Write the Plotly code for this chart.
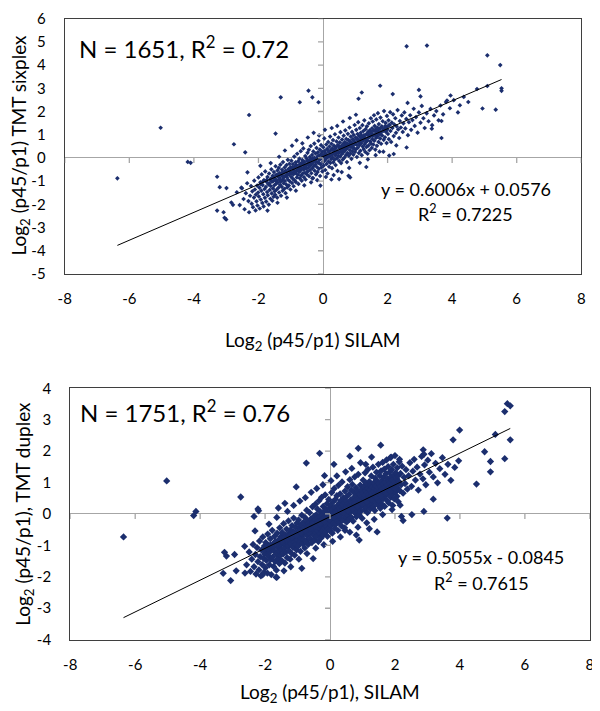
import plotly.graph_objects as go

# ---------------- data ----------------
x_ticks = [-8, -6, -4, -2, 0, 2, 4, 6, 8]
y_ticks_top = [-5, -4, -3, -2, -1, 0, 1, 2, 3, 4, 5, 6]
y_ticks_bot = [-4, -3, -2, -1, 0, 1, 2, 3, 4]

top_slope, top_intercept = 0.6006, 0.0576
bot_slope, bot_intercept = 0.5055, -0.0845

top_pairs = [
    # outliers
    (-6.37, -0.88), (-5.03, 1.30), (-4.19, -0.17), (-4.10, -0.21), (-2.76, 0.59), (-2.41, 0.24),
    (-2.29, 1.85), (-1.31, 2.61), (-1.47, 1.05), (-0.72, 2.40), (-0.45, 2.90), (-0.33, 2.61),
    (-0.14, 2.40), (-3.28, -0.81), (-3.20, -1.26), (-2.99, -1.30), (-3.28, -2.27), (-3.08, -2.34),
    (-3.05, -2.58), (-3.00, -2.65), (-2.84, -1.92), (-2.79, -2.02), (-2.53, -1.28), (2.59, 4.81),
    (3.22, 4.84), (5.09, 4.42), (5.49, 4.00), (5.53, 3.00), (5.53, 2.89), (5.35, 2.08), (4.94, 2.13),
    (4.77, 2.97), (4.50, 2.41), (5.09, 3.10), (1.77, 3.11), (1.20, 2.82), (1.10, 2.55), (2.16, 2.75),
    (2.97, 2.93), (3.02, 2.65), (3.67, 1.59), (3.67, 0.86), (3.37, 1.26), (2.62, 2.37), (2.59, 0.45),
    (2.05, 0.10), (2.19, 0.17), (1.34, -0.39), (0.79, -0.77), (0.84, -0.84), (0.50, -0.91),
    (0.26, -0.93), (-0.08, -1.19), (-0.33, -0.88), (3.84, 2.47), (3.95, 2.69), (4.24, 2.27),
    # cloud
    (-2.67, -1.48), (-2.58, -2.03), (-2.51, -1.31), (-2.46, -1.77), (-2.43, -2.21), (-2.39, -1.52),
    (-2.35, -1.09), (-2.31, -1.86), (-2.29, -2.34), (-2.26, -1.63), (-2.23, -1.21), (-2.21, -1.97),
    (-2.19, -1.44), (-2.17, -2.12), (-2.14, -1.71), (-2.13, -0.98), (-2.11, -1.36), (-2.09, -2.26),
    (-2.08, -1.58), (-2.06, -1.87), (-2.04, -1.19), (-2.03, -2.05), (-2.01, -1.49), (-2.00, -0.84),
    (-1.99, -1.66), (-1.97, -1.28), (-1.96, -2.18), (-1.94, -1.05), (-1.93, -1.79), (-1.91, -1.41),
    (-1.90, -0.71), (-1.88, -1.94), (-1.87, -1.17), (-1.85, -1.56), (-1.84, -2.09), (-1.83, -0.96),
    (-1.81, -1.34), (-1.80, -1.72), (-1.79, -0.58), (-1.77, -1.25), (-1.76, -1.88), (-1.75, -1.03),
    (-1.73, -1.47), (-1.72, -0.82), (-1.71, -1.61), (-1.69, -1.14), (-1.68, -2.01), (-1.67, -0.67),
    (-1.65, -1.38), (-1.64, -0.93), (-1.63, -1.76), (-1.62, -1.21), (-1.60, -0.49), (-1.59, -1.53),
    (-1.58, -1.02), (-1.57, -1.84), (-1.56, -0.77), (-1.55, -1.31), (-1.54, -0.99), (-1.53, -1.67),
    (-1.52, -0.61), (-1.51, -1.18), (-1.50, -1.44),
    (-1.49, -0.88), (-1.48, -1.59), (-1.47, -0.36), (-1.46, -1.12), (-1.45, -0.73), (-1.44, -1.37),
    (-1.43, -0.97), (-1.42, -1.71), (-1.41, -0.54), (-1.40, -1.06), (-1.39, -0.81), (-1.38, -1.28),
    (-1.37, -0.43), (-1.36, -1.49), (-1.35, -0.92), (-1.34, -0.65), (-1.33, -1.16), (-1.32, -0.29),
    (-1.31, -1.02), (-1.30, -1.63), (-1.29, -0.74), (-1.28, -1.24), (-1.27, -0.51), (-1.26, -0.95),
    (-1.25, -1.41), (-1.24, -0.18), (-1.23, -0.86), (-1.22, -1.09), (-1.21, -0.62), (-1.20, -1.33),
    (-1.19, -0.41), (-1.18, -0.99), (-1.17, -0.77), (-1.16, -1.52), (-1.15, -0.56), (-1.14, -1.14),
    (-1.13, -0.31), (-1.12, -0.83), (-1.11, -1.27), (-1.10, -0.67), (-1.09, -0.08), (-1.08, -0.94),
    (-1.07, -0.48), (-1.06, -1.19), (-1.05, -0.72), (-1.04, -0.25), (-1.03, -1.01), (-1.02, -0.59),
    (-1.01, -1.36), (-1.00, -0.39),
    (-0.99, -0.81), (-0.98, -0.12), (-0.97, -0.63), (-0.96, -1.08), (-0.95, -0.46), (-0.94, -0.89),
    (-0.93, -0.27), (-0.92, -0.71), (-0.91, -1.22), (-0.90, -0.53), (-0.89, 0.06), (-0.88, -0.97),
    (-0.87, -0.38), (-0.86, -0.66), (-0.85, -0.19), (-0.84, -1.04), (-0.83, -0.57), (-0.82, -0.31),
    (-0.81, -0.84), (-0.80, 0.18), (-0.79, -0.49), (-0.78, -0.73), (-0.77, -0.14), (-0.76, -1.12),
    (-0.75, -0.42), (-0.74, -0.61), (-0.73, -0.03), (-0.72, -0.88), (-0.71, -0.35), (-0.70, -0.55),
    (-0.69, 0.29), (-0.68, -0.76), (-0.67, -0.22), (-0.66, -0.98), (-0.65, -0.44), (-0.64, -0.09),
    (-0.63, -0.67), (-0.62, -0.28), (-0.61, 0.41), (-0.60, -0.51), (-0.59, -0.83), (-0.58, -0.17),
    (-0.57, -0.39), (-0.56, -0.64), (-0.55, 0.08), (-0.54, -0.93), (-0.53, -0.31), (-0.52, -0.47),
    (-0.51, -0.02), (-0.50, -0.71),
    (-0.49, -0.26), (-0.48, 0.22), (-0.47, -0.58), (-0.46, -0.11), (-0.45, -0.41), (-0.44, 0.35),
    (-0.43, -0.79), (-0.42, -0.19), (-0.41, 0.04), (-0.40, -0.52), (-0.39, -0.33), (-0.38, 0.51),
    (-0.37, -0.07), (-0.36, -0.66), (-0.35, -0.24), (-0.34, 0.13), (-0.33, -0.45), (-0.32, -0.02),
    (-0.31, -0.87), (-0.30, 0.28), (-0.29, -0.36), (-0.28, -0.14), (-0.27, 0.62), (-0.26, -0.55),
    (-0.25, -0.04), (-0.24, -0.29), (-0.23, 0.19), (-0.22, -0.71), (-0.21, -0.16), (-0.20, 0.43),
    (-0.19, -0.39), (-0.18, 0.02), (-0.17, -0.61), (-0.16, 0.24), (-0.15, -0.21), (-0.14, 0.74),
    (-0.13, -0.47), (-0.12, 0.09), (-0.11, -0.09), (-0.10, 0.36), (-0.09, -0.78), (-0.08, -0.27),
    (-0.07, 0.15), (-0.06, 0.55), (-0.05, -0.41), (-0.04, -0.01), (-0.03, 0.27), (-0.02, -0.58),
    (-0.01, 0.11), (0.00, -0.18),
    (0.01, 0.46), (0.02, -0.33), (0.03, 0.07), (0.04, 0.84), (0.05, -0.12), (0.06, 0.31),
    (0.07, -0.52), (0.08, 0.18), (0.09, -0.04), (0.10, 0.58), (0.11, -0.26), (0.12, 0.12),
    (0.13, 0.39), (0.14, -0.67), (0.15, 0.03), (0.16, 0.69), (0.17, -0.15), (0.18, 0.26),
    (0.19, -0.38), (0.20, 0.49), (0.21, 0.08), (0.22, 0.92), (0.23, -0.21), (0.24, 0.33),
    (0.25, -0.05), (0.26, 0.61), (0.27, 0.14), (0.28, -0.44), (0.29, 0.41), (0.30, 0.02),
    (0.31, 0.77), (0.32, -0.19), (0.33, 0.24), (0.34, 0.53), (0.35, -0.08), (0.36, 0.36),
    (0.37, 1.02), (0.38, 0.11), (0.39, -0.31), (0.40, 0.47), (0.41, 0.19), (0.42, 0.71),
    (0.43, -0.02), (0.44, 0.29), (0.45, -0.56), (0.46, 0.56), (0.47, 0.09), (0.48, 0.88),
    (0.49, 0.22), (0.50, -0.13),
    (0.51, 0.42), (0.52, 0.67), (0.53, 0.06), (0.54, 1.11), (0.55, 0.28), (0.56, -0.22),
    (0.57, 0.51), (0.58, 0.16), (0.59, 0.79), (0.60, 0.37), (0.61, -0.07), (0.62, 0.59),
    (0.63, 0.24), (0.64, 0.96), (0.65, 0.45), (0.66, 0.01), (0.67, 0.68), (0.68, 0.31),
    (0.69, 1.19), (0.70, 0.53), (0.71, 0.12), (0.72, 0.82), (0.73, 0.39), (0.74, -0.18),
    (0.75, 0.62), (0.76, 0.21), (0.77, 1.04), (0.78, 0.48), (0.79, 0.77), (0.80, 0.09),
    (0.81, 0.58), (0.82, 1.31), (0.83, 0.34), (0.84, 0.71), (0.85, 0.19), (0.86, 0.92),
    (0.87, 0.46), (0.88, -0.04), (0.89, 0.64), (0.90, 1.12), (0.91, 0.29), (0.92, 0.81),
    (0.93, 0.52), (0.94, 0.14), (0.95, 0.99), (0.96, 0.41), (0.97, 0.72), (0.98, 1.42),
    (0.99, 0.26), (1.00, 0.61),
    (1.01, 0.88), (1.02, 0.37), (1.03, 1.21), (1.04, 0.57), (1.05, 0.04), (1.06, 0.79),
    (1.07, 1.03), (1.08, 0.44), (1.09, 1.54), (1.10, 0.69), (1.11, 0.21), (1.12, 0.94),
    (1.13, 0.55), (1.14, 1.29), (1.15, 0.78), (1.16, 0.31), (1.17, 1.08), (1.18, 0.63),
    (1.19, 0.97), (1.20, 0.12), (1.21, 0.84), (1.22, 1.41), (1.23, 0.49), (1.24, 0.73),
    (1.25, 1.16), (1.26, 0.38), (1.27, 0.91), (1.28, 1.62), (1.29, 0.59), (1.30, 0.82),
    (1.31, 0.26), (1.32, 1.24), (1.33, 0.68), (1.34, 1.02), (1.35, 0.47), (1.36, 1.36),
    (1.37, 0.76), (1.38, 0.18), (1.39, 1.11), (1.40, 0.87), (1.41, 0.54), (1.42, 1.49),
    (1.43, 0.98), (1.44, 0.33), (1.45, 1.19), (1.46, 0.71), (1.47, 0.93), (1.48, 1.71),
    (1.49, 0.62), (1.50, 1.06),
    (1.51, 0.43), (1.52, 1.28), (1.53, 0.81), (1.54, 1.57), (1.55, 0.96), (1.56, 0.58),
    (1.57, 1.17), (1.58, 1.84), (1.59, 0.74), (1.60, 1.38), (1.61, 0.99), (1.62, 0.36),
    (1.63, 1.22), (1.64, 0.86), (1.65, 1.66), (1.66, 1.07), (1.67, 0.52), (1.68, 1.31),
    (1.69, 0.92), (1.70, 1.93), (1.71, 1.14), (1.72, 0.69), (1.73, 1.46), (1.74, 1.02),
    (1.75, 0.27), (1.76, 1.26), (1.77, 0.84), (1.78, 1.74), (1.79, 1.09), (1.80, 0.61),
    (1.82, 1.36), (1.83, 0.97), (1.85, 1.58), (1.86, 1.19), (1.88, 0.78), (1.89, 2.02),
    (1.91, 1.28), (1.92, 0.89), (1.94, 1.51), (1.95, 1.12), (1.97, 0.64), (1.98, 1.81),
    (1.99, 1.34),
    (2.01, 1.03), (2.03, 1.62), (2.04, 0.81), (2.06, 1.41), (2.08, 1.97), (2.09, 1.16),
    (2.11, 0.69), (2.13, 1.52), (2.15, 1.29), (2.17, 1.88), (2.19, 0.94), (2.21, 1.44),
    (2.24, 1.71), (2.26, 1.08), (2.28, 1.36), (2.31, 2.06), (2.33, 1.23), (2.36, 0.86),
    (2.38, 1.59), (2.41, 1.31), (2.44, 1.83), (2.47, 1.12), (2.49, 1.49), (2.52, 1.96),
    (2.55, 1.27), (2.58, 1.68),
    (2.63, 0.98), (2.66, 1.54), (2.70, 1.84), (2.73, 1.21), (2.77, 1.63), (2.81, 2.12),
    (2.84, 1.38), (2.88, 1.76), (2.93, 1.09), (2.97, 1.96), (3.02, 1.52), (3.06, 2.24),
    (3.11, 1.71), (3.15, 1.29), (3.21, 1.92), (3.27, 1.58), (3.33, 2.11), (3.38, 1.41),
    (3.44, 1.83), (3.51, 2.02), (3.58, 1.62), (3.64, 2.26), (3.72, 1.88), (3.81, 2.41),
    (3.93, 2.14), (4.05, 2.49), (4.18, 1.96), (4.36, 2.63),
    (-1.62, -0.22), (-1.36, 0.05), (-1.18, 0.32), (-0.96, 0.53), (-0.82, 0.76), (-0.64, 0.63),
    (-0.47, 0.88), (-0.29, 1.08), (-0.12, 0.97), (0.06, 1.21), (0.27, 1.29), (0.44, 1.38),
    (0.62, 1.57), (0.83, 1.72), (1.02, 1.86), (-2.34, -0.62), (-1.94, -0.34),
    (-1.72, -2.27), (-1.41, -1.93), (-1.12, -1.71), (-0.84, -1.41), (-0.58, -1.18), (-0.37, -1.05),
    (-0.18, -0.96), (0.09, -0.82), (0.33, -0.74), (0.58, -0.61), (0.81, -0.43), (1.14, -0.21),
    (1.39, -0.06), (1.63, 0.12), (1.87, 0.27), (2.27, 0.54),
    # dense core
    (-1.93, -1.12), (-1.86, -1.02), (-1.74, -0.94), (-1.66, -1.09), (-1.61, -0.89), (-1.53, -0.81),
    (-1.47, -0.98), (-1.39, -0.71), (-1.34, -0.86), (-1.27, -0.64), (-1.22, -0.79), (-1.16, -0.57),
    (-1.11, -0.72), (-1.05, -0.49), (-0.99, -0.66), (-0.94, -0.41), (-0.88, -0.58), (-0.83, -0.34),
    (-0.77, -0.51), (-0.72, -0.27), (-0.66, -0.44), (-0.61, -0.19), (-0.55, -0.37), (-0.49, -0.12),
    (-0.44, -0.29), (-0.38, -0.06), (-0.33, -0.21), (-0.27, 0.01), (-0.22, -0.14), (-0.16, 0.08),
    (-0.11, -0.06), (-0.05, 0.15), (0.01, 0.02), (0.06, 0.21), (0.12, 0.07), (0.17, 0.29),
    (0.23, 0.14), (0.28, 0.36), (0.34, 0.21), (0.39, 0.43), (0.45, 0.27), (0.50, 0.49),
    (0.56, 0.34), (0.61, 0.57), (0.67, 0.42), (0.72, 0.63), (0.78, 0.51), (0.83, 0.71),
    (0.89, 0.56), (0.94, 0.78), (1.00, 0.63), (1.05, 0.84), (1.11, 0.71), (1.16, 0.91),
    (1.22, 0.76), (1.27, 0.98), (1.33, 0.84), (1.38, 1.04), (1.44, 0.91), (1.49, 1.12),
    (1.55, 0.98), (1.60, 1.18), (1.66, 1.04), (1.71, 1.24), (1.77, 1.11), (1.82, 1.31),
    (1.88, 1.17), (1.93, 1.38), (1.99, 1.22), (2.05, 1.42),
]

bot_pairs = [
    # outliers
    (-6.36, -0.73), (-5.03, 1.05), (-4.20, -0.05), (-4.13, 0.08), (-2.75, 0.54), (-3.29, -1.89),
    (-3.06, -2.12), (-3.25, -1.22), (-3.19, -1.34), (-2.94, -1.29), (-2.63, -1.03), (-2.89, -1.81),
    (-2.62, -1.88), (-2.34, -0.08), (-2.22, 0.16), (-2.20, 0.10), (-1.59, 0.19), (-1.39, 0.34),
    (-1.04, 0.86), (-0.73, 1.62), (-0.32, 1.93), (-0.17, 1.22), (0.12, 1.58), (0.87, 2.09),
    (0.61, 1.84), (1.10, 1.58), (1.88, 1.81), (2.14, 1.74), (1.56, 2.19), (2.87, 2.04),
    (2.89, 1.90), (3.79, 2.36), (3.99, 2.67), (4.76, 1.98), (4.94, 1.67), (4.94, 1.34),
    (4.51, 0.95), (5.09, 2.53), (5.38, 3.26), (5.46, 3.51), (5.55, 3.44), (5.55, 2.36),
    (5.38, 1.76), (3.61, -0.13), (2.89, 0.08), (2.20, -0.08), (2.25, -0.21), (2.52, -0.02),
    (3.18, 0.47), (1.21, -0.47), (1.45, -0.57), (0.81, -0.67), (0.90, -0.83), (0.46, -0.52),
    (-0.52, -1.42), (-0.87, -1.73), (-1.64, -2.02), (-2.08, -1.94),
    # cloud
    (-2.57, -1.62), (-2.49, -1.21), (-2.45, -1.83), (-2.41, -1.44), (-2.37, -0.97), (-2.34, -1.68),
    (-2.30, -1.29), (-2.28, -1.91), (-2.25, -1.07), (-2.22, -1.52), (-2.19, -1.78), (-2.17, -0.86),
    (-2.15, -1.36), (-2.13, -1.97), (-2.11, -1.15), (-2.09, -1.61), (-2.07, -0.73), (-2.05, -1.41),
    (-2.04, -1.86), (-2.02, -1.02), (-2.01, -1.27),
    (-1.99, -1.71), (-1.98, -0.91), (-1.96, -1.48), (-1.95, -1.16), (-1.93, -1.88), (-1.92, -0.64),
    (-1.90, -1.33), (-1.89, -1.02), (-1.87, -1.62), (-1.86, -1.21), (-1.84, -0.79), (-1.83, -1.45),
    (-1.81, -1.93), (-1.80, -1.09), (-1.78, -0.52), (-1.77, -1.37), (-1.75, -0.96), (-1.74, -1.67),
    (-1.72, -1.18), (-1.71, -0.71), (-1.69, -1.51), (-1.68, -0.88), (-1.66, -1.28), (-1.65, -1.79),
    (-1.63, -0.61), (-1.62, -1.07), (-1.60, -1.42), (-1.59, -0.83), (-1.57, -1.19), (-1.56, -1.58),
    (-1.55, -0.44), (-1.53, -0.98), (-1.52, -1.31), (-1.51, -0.72),
    (-1.49, -1.12), (-1.48, -1.49), (-1.47, -0.59), (-1.45, -0.93), (-1.44, -1.27), (-1.43, -0.31),
    (-1.42, -0.81), (-1.41, -1.08), (-1.39, -1.56), (-1.38, -0.67), (-1.37, -0.96), (-1.36, -1.21),
    (-1.34, -0.48), (-1.33, -0.87), (-1.32, -1.39), (-1.31, -0.74), (-1.29, -1.03), (-1.28, -0.22),
    (-1.27, -0.62), (-1.26, -1.17), (-1.24, -0.83), (-1.23, -1.44), (-1.22, -0.51), (-1.21, -0.94),
    (-1.19, -0.69), (-1.18, -1.26), (-1.17, -0.37), (-1.16, -0.78), (-1.14, -1.06), (-1.13, -0.57),
    (-1.12, -0.13), (-1.11, -0.89), (-1.09, -1.31), (-1.08, -0.66), (-1.07, -0.42), (-1.06, -0.98),
    (-1.04, -0.73), (-1.03, -1.14), (-1.02, -0.29), (-1.01, -0.84),
    (-0.99, -0.55), (-0.98, -1.02), (-0.97, -0.19), (-0.96, -0.71), (-0.94, -0.43), (-0.93, -0.89),
    (-0.92, -0.61), (-0.91, -1.19), (-0.89, -0.34), (-0.88, -0.78), (-0.87, -0.04), (-0.86, -0.52),
    (-0.84, -0.95), (-0.83, -0.66), (-0.82, -0.27), (-0.81, -0.82), (-0.79, -0.47), (-0.78, -1.08),
    (-0.77, -0.11), (-0.76, -0.59), (-0.74, -0.38), (-0.73, -0.86), (-0.72, 0.12), (-0.71, -0.69),
    (-0.69, -0.23), (-0.68, -0.51), (-0.67, -0.97), (-0.66, -0.31), (-0.64, -0.62), (-0.63, 0.04),
    (-0.62, -0.44), (-0.61, -0.79), (-0.59, -0.16), (-0.58, -0.56), (-0.57, -0.35), (-0.56, -0.91),
    (-0.54, 0.23), (-0.53, -0.48), (-0.52, -0.26), (-0.51, -0.68),
    (-0.49, -0.07), (-0.48, -0.41), (-0.47, -0.83), (-0.46, -0.19), (-0.45, 0.31), (-0.44, -0.58),
    (-0.43, -0.29), (-0.42, -0.02), (-0.41, -0.71), (-0.40, -0.37), (-0.39, 0.16), (-0.38, -0.52),
    (-0.37, -0.13), (-0.36, -0.88), (-0.35, -0.33), (-0.34, 0.42), (-0.33, -0.46), (-0.32, -0.09),
    (-0.31, -0.64), (-0.30, -0.24), (-0.29, 0.07), (-0.28, -0.77), (-0.27, -0.39), (-0.26, 0.53),
    (-0.25, -0.17), (-0.24, -0.55), (-0.23, -0.03), (-0.22, -0.31), (-0.21, 0.24), (-0.20, -0.67),
    (-0.19, -0.21), (-0.18, 0.09), (-0.17, -0.44), (-0.16, -0.11), (-0.15, 0.61), (-0.14, -0.58),
    (-0.13, -0.26), (-0.12, 0.14), (-0.11, -0.38), (-0.10, -0.05), (-0.09, 0.33), (-0.08, -0.71),
    (-0.07, -0.18), (-0.06, 0.02), (-0.05, -0.47), (-0.04, 0.46), (-0.03, -0.28), (-0.02, -0.09),
    (-0.01, 0.19), (0.00, -0.53),
    (0.01, -0.14), (0.02, 0.28), (0.03, -0.36), (0.04, 0.07), (0.05, 0.68), (0.06, -0.22),
    (0.07, -0.61), (0.08, 0.15), (0.09, -0.04), (0.10, 0.39), (0.11, -0.29), (0.12, 0.03),
    (0.13, 0.81), (0.14, -0.46), (0.15, 0.21), (0.16, -0.12), (0.17, 0.47), (0.18, -0.33),
    (0.19, 0.09), (0.20, -0.01), (0.21, 0.58), (0.22, -0.21), (0.23, 0.26), (0.24, -0.52),
    (0.25, 0.12), (0.26, 0.91), (0.27, -0.07), (0.28, 0.34), (0.29, -0.28), (0.30, 0.18),
    (0.31, 0.64), (0.32, -0.15), (0.33, 0.04), (0.34, 0.43), (0.35, -0.38), (0.36, 0.23),
    (0.37, 1.02), (0.38, 0.08), (0.39, 0.31), (0.40, -0.19), (0.41, 0.52), (0.42, 0.14),
    (0.43, -0.03), (0.44, 0.37), (0.45, -0.44), (0.46, 0.73), (0.47, 0.19), (0.48, -0.09),
    (0.49, 0.41), (0.50, 0.06),
    (0.51, -0.26), (0.52, 0.56), (0.53, 0.22), (0.54, 0.87), (0.55, -0.04), (0.56, 0.33),
    (0.57, 0.11), (0.58, 0.62), (0.59, -0.17), (0.60, 0.28), (0.61, 1.09), (0.62, 0.07),
    (0.63, 0.44), (0.64, 0.18), (0.65, 0.76), (0.66, -0.11), (0.67, 0.37), (0.68, 0.15),
    (0.69, 0.94), (0.70, 0.26), (0.71, -0.23), (0.72, 0.51), (0.73, 0.09), (0.74, 0.68),
    (0.75, 0.32), (0.76, 1.18), (0.77, 0.03), (0.78, 0.43), (0.79, 0.21), (0.80, 0.83),
    (0.81, -0.09), (0.82, 0.57), (0.83, 0.29), (0.84, 0.12), (0.85, 0.71), (0.86, 0.38),
    (0.87, 1.26), (0.88, 0.19), (0.89, 0.49), (0.90, -0.03), (0.91, 0.63), (0.92, 0.34),
    (0.93, 0.92), (0.94, 0.08), (0.95, 0.46), (0.96, 0.24), (0.97, 0.78), (0.98, 0.55),
    (0.99, -0.14), (1.00, 0.39),
    (1.01, 0.66), (1.02, 1.08), (1.03, 0.27), (1.04, 0.51), (1.05, 0.89), (1.06, 0.13),
    (1.07, 0.59), (1.08, 1.31), (1.09, 0.36), (1.10, 0.74), (1.11, 0.21), (1.12, 0.97),
    (1.13, 0.48), (1.14, 0.67), (1.15, 0.04), (1.16, 0.82), (1.17, 1.42), (1.18, 0.41),
    (1.19, 0.61), (1.20, 0.28), (1.21, 1.03), (1.22, 0.53), (1.23, 0.77), (1.24, 0.16),
    (1.25, 0.91), (1.26, 0.44), (1.27, 1.21), (1.28, 0.69), (1.29, 0.32), (1.30, 0.86),
    (1.31, 0.57), (1.32, 1.49), (1.33, 0.23), (1.34, 0.72), (1.35, 0.99), (1.36, 0.47),
    (1.37, 0.81), (1.38, 0.11), (1.39, 1.14), (1.40, 0.62), (1.41, 0.89), (1.42, 0.38),
    (1.43, 1.33), (1.44, 0.76), (1.45, 0.54), (1.46, 1.04), (1.47, 0.29), (1.48, 0.84),
    (1.49, 1.58), (1.50, 0.66),
    (1.51, 0.97), (1.52, 0.41), (1.53, 1.22), (1.54, 0.73), (1.55, 0.18), (1.56, 0.88),
    (1.57, 1.37), (1.58, 0.57), (1.59, 1.06), (1.60, 0.31), (1.61, 0.79), (1.62, 1.64),
    (1.63, 0.95), (1.64, 0.49), (1.65, 1.17), (1.66, 0.68), (1.67, 1.43), (1.68, 0.24),
    (1.69, 0.86), (1.70, 1.01), (1.71, 0.59), (1.72, 1.28), (1.73, 0.77), (1.74, 1.72),
    (1.75, 0.43), (1.76, 0.92), (1.77, 1.12), (1.78, 0.64), (1.79, 1.51), (1.80, 0.82),
    (1.81, 0.35), (1.82, 1.04), (1.83, 1.33), (1.84, 0.71), (1.85, 0.98), (1.86, 1.79),
    (1.87, 0.53), (1.88, 1.19), (1.89, 0.87), (1.90, 1.41), (1.91, 0.62), (1.92, 1.08),
    (1.93, 0.27), (1.94, 0.94), (1.95, 1.58), (1.96, 0.76), (1.97, 1.24), (1.98, 0.48),
    (1.99, 1.02), (2.00, 1.86),
    (2.01, 0.69), (2.02, 1.31), (2.03, 0.91), (2.05, 1.12), (2.06, 0.56), (2.07, 1.47),
    (2.08, 0.82), (2.09, 1.21), (2.10, 0.39), (2.12, 1.03), (2.13, 1.66), (2.15, 0.74),
    (2.17, 1.29), (2.19, 0.93), (2.22, 1.52), (2.25, 0.66), (2.28, 1.17), (2.31, 0.97),
    (2.34, 1.41), (2.38, 0.79),
    (2.42, 1.22), (2.46, 1.63), (2.51, 0.88), (2.55, 1.36), (2.59, 1.74), (2.63, 1.08),
    (2.68, 1.49), (2.72, 0.76), (2.77, 1.27), (2.82, 1.83), (2.86, 1.12), (2.91, 1.56),
    (2.95, 0.93), (3.01, 1.71), (3.06, 1.33), (3.12, 1.92), (3.18, 1.18), (3.25, 1.61),
    (3.31, 0.99), (3.38, 1.44), (3.46, 1.79), (3.54, 1.26), (3.63, 1.58), (3.72, 1.07),
    (3.84, 1.48), (3.96, 1.69),
    (-1.88, -0.32), (-1.64, -0.11), (-1.31, 0.08), (-1.12, 0.27), (-0.93, 0.41), (-0.76, 0.52),
    (-0.58, 0.69), (-0.41, 0.81), (-0.22, 0.93), (0.03, 1.06), (0.21, 1.21), (0.48, 1.34),
    (0.67, 1.45), (0.94, 1.63), (1.28, 1.81), (-2.31, -0.54),
    (-1.66, -2.01), (-1.42, -1.81), (-1.21, -1.68), (-0.96, -1.44), (-0.71, -1.26), (-0.44, -1.09),
    (-0.19, -0.98), (0.08, -0.87), (0.32, -0.73), (0.61, -0.58), (0.86, -0.42), (1.13, -0.28),
    (1.36, -0.17), (1.62, -0.02), (1.91, 0.14), (2.16, 0.28),
    # dense core
    (-2.05, -1.15), (-1.97, -1.03), (-1.91, -1.11), (-1.83, -0.98), (-1.76, -1.02), (-1.69, -0.89),
    (-1.62, -0.95), (-1.54, -0.82), (-1.47, -0.88), (-1.40, -0.75), (-1.33, -0.81), (-1.25, -0.68),
    (-1.18, -0.74), (-1.11, -0.61), (-1.04, -0.67), (-0.96, -0.54), (-0.89, -0.60), (-0.82, -0.47),
    (-0.75, -0.53), (-0.67, -0.40), (-0.60, -0.46), (-0.53, -0.33), (-0.46, -0.39), (-0.38, -0.26),
    (-0.31, -0.32), (-0.24, -0.19), (-0.17, -0.25), (-0.09, -0.12), (-0.02, -0.18), (0.05, -0.05),
    (0.12, -0.11), (0.20, 0.02), (0.27, -0.04), (0.34, 0.09), (0.41, 0.03), (0.49, 0.16),
    (0.56, 0.10), (0.63, 0.23), (0.70, 0.17), (0.78, 0.30), (0.85, 0.24), (0.92, 0.37),
    (0.99, 0.31), (1.07, 0.44), (1.14, 0.38), (1.21, 0.51), (1.28, 0.45), (1.36, 0.58),
    (1.43, 0.52), (1.50, 0.65), (1.57, 0.59), (1.65, 0.72), (1.72, 0.66), (1.79, 0.79),
    (1.86, 0.73), (1.94, 0.86), (2.01, 0.80), (2.08, 0.93),
]

top_x = [p[0] for p in top_pairs]
top_y = [p[1] for p in top_pairs]
bot_x = [p[0] for p in bot_pairs]
bot_y = [p[1] for p in bot_pairs]

# ---------------- figure ----------------
OFF = 8                      # default page body margin
W, H = 600 - OFF, 711 - OFF
FONT = "Lato"
NAVY = "#1b2e6e"
BORDER = "#3f3f3f"
ZERO = "#a6a6a6"


def px_x(p):
    return (p - OFF) / W


def px_y(p):
    return 1 - (p - OFF) / H


fig = go.Figure()

fig.add_trace(go.Scatter(x=top_x, y=top_y, mode="markers", xaxis="x", yaxis="y",
                         marker=dict(symbol="diamond", size=3.6, color=NAVY, line=dict(width=0)),
                         hoverinfo="skip", showlegend=False))
tx = [min(top_x), max(top_x)]
fig.add_trace(go.Scatter(x=tx, y=[top_slope * v + top_intercept for v in tx], mode="lines",
                         xaxis="x", yaxis="y", line=dict(color="black", width=1),
                         hoverinfo="skip", showlegend=False))

fig.add_trace(go.Scatter(x=bot_x, y=bot_y, mode="markers", xaxis="x2", yaxis="y2",
                         marker=dict(symbol="diamond", size=5.6, color=NAVY, line=dict(width=0)),
                         hoverinfo="skip", showlegend=False))
bx = [min(bot_x), max(bot_x)]
fig.add_trace(go.Scatter(x=bx, y=[bot_slope * v + bot_intercept for v in bx], mode="lines",
                         xaxis="x2", yaxis="y2", line=dict(color="black", width=1),
                         hoverinfo="skip", showlegend=False))


def xaxis(domain, anchor):
    return dict(domain=domain, anchor=anchor, range=[-8, 8], showgrid=False,
                zeroline=True, zerolinecolor=ZERO, zerolinewidth=1.3,
                showline=True, mirror=True, linecolor=BORDER, linewidth=1.3,
                tickvals=x_ticks, ticktext=[str(v) for v in x_ticks], ticks="",
                ticklabelstandoff=11, tickfont=dict(family=FONT, size=15, color="black"))


def yaxis(domain, anchor, rng, ticks):
    return dict(domain=domain, anchor=anchor, range=rng, showgrid=False,
                zeroline=True, zerolinecolor=ZERO, zerolinewidth=1.3,
                showline=True, mirror=True, linecolor=BORDER, linewidth=1.3,
                tickvals=ticks, ticktext=[str(v) for v in ticks], ticks="",
                ticklabelstandoff=15, tickfont=dict(family=FONT, size=15, color="black"))


fig.update_layout(
    width=W, height=H, margin=dict(l=0, r=0, t=0, b=0),
    paper_bgcolor="white", plot_bgcolor="white",
    xaxis=xaxis([px_x(58.7), px_x(585)], "y"),
    yaxis=yaxis([px_y(270.7), px_y(8.7)], "x", [-5, 6], y_ticks_top),
    xaxis2=xaxis([px_x(64.3), px_x(593.7)], "y2"),
    yaxis2=yaxis([px_y(646), px_y(388)], "x2", [-4, 4], y_ticks_bot),
)

# small tick marks on the zero axes (Excel style)
shapes = []
for v in x_ticks:
    for xr, yr in (("x", "y"), ("x2", "y2")):
        shapes.append(dict(type="line", xref=xr, yref=yr, x0=v, x1=v,
                           ysizemode="pixel", yanchor=0, y0=0, y1=-5,
                           line=dict(color=ZERO, width=1.3)))
for v in y_ticks_top:
    shapes.append(dict(type="line", xref="x", yref="y", y0=v, y1=v,
                       xsizemode="pixel", xanchor=0, x0=-5, x1=0,
                       line=dict(color=ZERO, width=1.3)))
for v in y_ticks_bot:
    shapes.append(dict(type="line", xref="x2", yref="y2", y0=v, y1=v,
                       xsizemode="pixel", xanchor=0, x0=-5, x1=0,
                       line=dict(color=ZERO, width=1.3)))
fig.update_layout(shapes=shapes)

ann = []
tf = dict(family=FONT, size=19, color="black")


def add(text, x, y, font, xanchor="center", angle=0):
    ann.append(dict(text=text, x=px_x(x), y=px_y(y), xref="paper", yref="paper",
                    showarrow=False, font=font, xanchor=xanchor, yanchor="middle",
                    textangle=angle))


# axis titles
add("Log<sub>2</sub> (p45/p1) SILAM", 311.5, 339, tf)
add("Log<sub>2</sub> (p45/p1) TMT sixplex", 13, 138, tf, angle=-90)
add("Log<sub>2</sub> (p45/p1), SILAM", 329, 701, tf)
add("Log<sub>2</sub> (p45/p1), TMT duplex", 17, 517, tf, angle=-90)
# inset labels
big = dict(family=FONT, size=24, color="black")
add("N = 1651, R<sup>2</sup> = 0.72", 71, 38, big, xanchor="left")
add("N = 1751, R<sup>2</sup> = 0.76", 72, 411, big, xanchor="left")
eq = dict(family=FONT, size=18, color="black")
add("y = 0.6006x + 0.0576", 468, 183, eq)
add("R<sup>2</sup> = 0.7225", 467, 208, eq)
add("y = 0.5055x - 0.0845", 483, 561, eq)
add("R<sup>2</sup> = 0.7615", 483, 587, eq)
fig.update_layout(annotations=ann)

fig.write_html("out.html")
